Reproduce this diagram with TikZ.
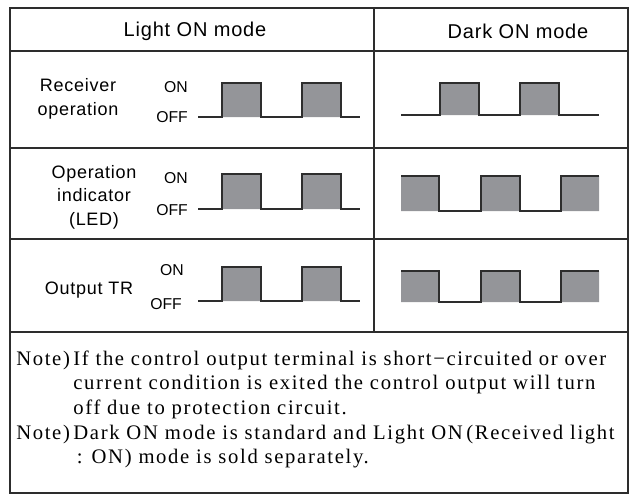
\documentclass[tikz,border=0pt]{standalone}
\usepackage{fontspec}
\setmainfont{Liberation Serif}[LetterSpace=8]
\newfontfamily\gulimfont[LetterSpace=4]{Liberation Sans}
\newfontfamily\levelfont{Liberation Sans}
\usetikzlibrary{positioning}
\definecolor{linegray}{RGB}{45,45,45}
\definecolor{pulsegray}{RGB}{148,149,153}
\tikzset{
  frame/.style={draw=linegray, line width=1.2pt},
  wave/.style={draw=linegray, line width=1pt},
  pulse/.style={fill=pulsegray},
  head/.style={font=\gulimfont\fontsize{15}{18}\selectfont, inner sep=0pt},
  rowlabel/.style={font=\gulimfont\fontsize{13.5}{17.6}\selectfont, align=center, inner sep=0pt},
  level/.style={font=\levelfont\fontsize{11.8}{14}\selectfont, inner sep=0pt, anchor=east},
  note/.style={font=\fontsize{15.5}{18.4}\selectfont, inner sep=0pt, anchor=north west}
}

\begin{document}
\begin{tikzpicture}[x=0.75pt, y=-0.75pt]
  \useasboundingbox (0,0) rectangle (630,496);
  % table
  \draw[frame] (10,8) rectangle (628,493);
  \foreach \y in {51,148,239,332}
    \draw[frame] (10,\y) -- (628,\y);
  \draw[frame] (374,8) -- (374,332);

  % headings
  \node[head] (light) at (195,31) {Light ON mode};
  \node[head] (dark) at (518,31) {Dark ON mode};

  % row labels
  \node[rowlabel] (recv) at (78,99) {Receiver\\operation};
  \node[rowlabel] (led) at (94,197) {Operation\\indicator\\(LED)};
  \node[rowlabel] (outtr) at (89,290) {Output TR};

  % levels
  \node[level] (on1) at (188,87) {ON};
  \node[level] (off1) at (188,117) {OFF};
  \node[level] (on2) at (188,178) {ON};
  \node[level] (off2) at (188,210) {OFF};
  \node[level] (on3) at (184,270) {ON};
  \node[level] (off3) at (182,304) {OFF};

  % light ON mode
  \foreach \hi/\lo in {83/117, 174/209, 267/301}{
    \fill[pulse] (222,\hi) rectangle (261,\lo) (302,\hi) rectangle (341,\lo);
    \draw[wave] (198,\lo) -| (222,\hi) -| (261,\lo) -| (302,\hi) -| (341,\lo) -- (360,\lo);
  }

  % dark ON mode
  \fill[pulse] (440,83) rectangle (479,115) (520,83) rectangle (559,115);
  \draw[wave] (401,115) -| (440,83) -| (479,115) -| (520,83) -| (559,115) -- (599,115);
  \foreach \hi/\lo in {176/211, 271/302}{
    \fill[pulse] (401,\hi) rectangle (439,\lo) (481,\hi) rectangle (520,\lo) (561,\hi) rectangle (599,\lo);
    \draw[wave] (401,\hi) -| (439,\lo) -| (481,\hi) -| (520,\lo) -| (561,\hi) -- (599,\hi);
  }

  % notes
  \node[note] (notes) at (16,348) {%
    \begin{tabular}{@{}l@{\,}l@{}}
      Note) & If the control output terminal is short−circuited or over\\
            & current condition is exited the control output will turn\\
            & off due to protection circuit.\\
      Note) & Dark ON mode is standard and Light ON\,(Received light\\
            & \,: ON) mode is sold separately.
    \end{tabular}};
\end{tikzpicture}
\end{document}
